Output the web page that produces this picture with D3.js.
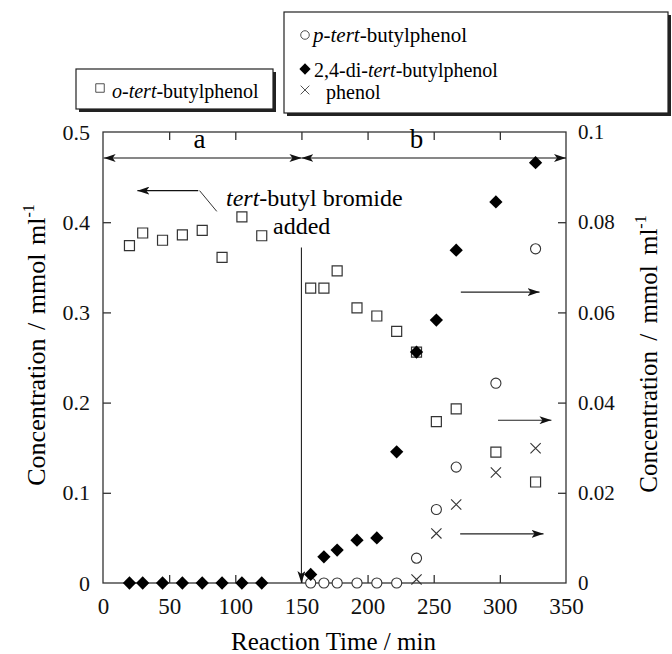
<!DOCTYPE html>
<html>
<head>
<meta charset="utf-8">
<script src="https://cdn.jsdelivr.net/npm/d3@7"></script>
<style>
  body { margin: 0; background: #fff; }
</style>
</head>
<body>
<script>
// o-tert-butylphenol, left axis (mmol/ml)
const orthoTime = [20, 30, 45, 60, 75, 90, 105, 120, 157, 167, 177, 192, 207, 222, 237, 252, 267, 297, 327];
const orthoConc = [0.374, 0.388, 0.380, 0.386, 0.391, 0.361, 0.406, 0.385, 0.327, 0.327, 0.346, 0.305, 0.296, 0.279, 0.256, 0.179, 0.193, 0.145, 0.112];

// right axis series
const paraTime = [157, 167, 177, 192, 207, 222, 237, 252, 267, 297, 327];
const paraConc = [0, 0, 0, 0, 0, 0, 0.0055, 0.0163, 0.0257, 0.0443, 0.0741];

const diTime = [20, 30, 45, 60, 75, 90, 105, 120, 157, 167, 177, 192, 207, 222, 237, 252, 267, 297, 327];
const diConc = [0, 0, 0, 0, 0, 0, 0, 0, 0.0019, 0.0058, 0.0073, 0.0095, 0.0100, 0.0291, 0.0512, 0.0583, 0.0738, 0.0845, 0.0932];

const phenolTime = [237, 252, 267, 297, 327];
const phenolConc = [0.0008, 0.011, 0.0174, 0.0245, 0.0299];

const xTicks = [0, 50, 100, 150, 200, 250, 300, 350];
const yLeftTicks = [0, 0.1, 0.2, 0.3, 0.4, 0.5];
const yRightTicks = [0, 0.02, 0.04, 0.06, 0.08, 0.1];

const W = 672, H = 654;
const margin = { top: 132, right: 106, bottom: 71, left: 103 };
const width = W - margin.left - margin.right;
const height = H - margin.top - margin.bottom;
const FONT = "'Liberation Serif', 'Times New Roman', serif";

const x = d3.scaleLinear().domain([0, 350]).range([0, width]);
const yL = d3.scaleLinear().domain([0, 0.5]).range([height, 0]);
const yR = d3.scaleLinear().domain([0, 0.1]).range([height, 0]);

const svg = d3.select("body").append("svg")
  .attr("width", W)
  .attr("height", H);

const defs = svg.append("defs");
defs.append("marker")
  .attr("id", "arr")
  .attr("viewBox", "0 0 12 8")
  .attr("refX", 12).attr("refY", 4)
  .attr("markerWidth", 12).attr("markerHeight", 8)
  .attr("markerUnits", "userSpaceOnUse")
  .attr("orient", "auto-start-reverse")
  .append("path")
  .attr("d", "M0,0 L12,4 L0,8 L3,4 Z")
  .attr("fill", "#111");

const g = svg.append("g")
  .attr("transform", "translate(" + margin.left + "," + margin.top + ")");

// frame
g.append("rect")
  .attr("width", width).attr("height", height)
  .attr("fill", "none").attr("stroke", "#333").attr("stroke-width", 1.3);

const tickLen = 8;
const axStyle = (sel, fs) => {
  sel.select(".domain").remove();
  sel.selectAll(".tick line").attr("stroke", "#333").attr("stroke-width", 1.3);
  sel.selectAll("text").attr("font-size", fs).attr("fill", "#111");
};

g.append("g")
  .attr("transform", "translate(0," + height + ")")
  .call(d3.axisBottom(x).tickValues(xTicks).tickSize(-tickLen).tickPadding(15).tickFormat(d3.format("d")))
  .call(axStyle, 23)
  .call(s => s.selectAll(".tick").filter(d => d === 0 || d === 350).select("line").remove());

g.append("g")
  .call(d3.axisTop(x).tickValues(xTicks).tickSize(-tickLen).tickFormat(""))
  .call(axStyle, 20)
  .call(s => s.selectAll(".tick").filter(d => d === 0 || d === 350).select("line").remove());

g.append("g")
  .call(d3.axisLeft(yL).tickValues(yLeftTicks).tickSize(-tickLen).tickPadding(13).tickFormat(d => d === 0 ? "0" : d3.format(".1f")(d)))
  .call(axStyle, 22)
  .call(s => s.selectAll(".tick").filter(d => d === 0 || d === 0.5).select("line").remove());

g.append("g")
  .attr("transform", "translate(" + width + ",0)")
  .call(d3.axisRight(yR).tickValues(yRightTicks).tickSize(-tickLen).tickPadding(12).tickFormat(d => d === 0 ? "0" : d === 0.1 ? "0.1" : d3.format(".2f")(d)))
  .call(axStyle, 21)
  .call(s => s.selectAll(".tick").filter(d => d === 0 || d === 0.1).select("line").remove());

// axis titles
svg.append("text")
  .attr("x", margin.left + width / 2 - 1)
  .attr("y", 650)
  .attr("text-anchor", "middle")
  .attr("font-size", 25)
  .text("Reaction Time / min");

const leftTitle = svg.append("text")
  .attr("transform", "translate(45,345) rotate(-90)")
  .attr("text-anchor", "middle")
  .attr("font-size", 26)
  .attr("word-spacing", 2);
leftTitle.append("tspan").text("Concentration / mmol ml");
leftTitle.append("tspan").attr("dy", -11).attr("font-size", 16).text("-1");

const rightTitle = svg.append("text")
  .attr("transform", "translate(657,354) rotate(-90)")
  .attr("text-anchor", "middle")
  .attr("font-size", 25)
  .attr("word-spacing", 4);
rightTitle.append("tspan").text("Concentration  / mmol ml");
rightTitle.append("tspan").attr("dy", -11).attr("font-size", 16).text("-1");

// period arrows a / b
const yTopArrow = 26;
const dbl = (x0, x1) => g.append("line")
  .attr("x1", x(x0)).attr("x2", x(x1))
  .attr("y1", yTopArrow).attr("y2", yTopArrow)
  .attr("stroke", "#111").attr("stroke-width", 1.2)
  .attr("marker-start", "url(#arr)").attr("marker-end", "url(#arr)");
dbl(0.5, 150);
dbl(150, 350);
g.append("text").attr("x", x(73)).attr("y", 16).attr("text-anchor", "middle")
  .attr("font-size", 27).text("a");
g.append("text").attr("x", x(237)).attr("y", 16).attr("text-anchor", "middle")
  .attr("font-size", 27).text("b");

// tert-butyl bromide annotation
g.append("line")
  .attr("x1", x(72)).attr("x2", x(26))
  .attr("y1", yL(0.435)).attr("y2", yL(0.435))
  .attr("stroke", "#111").attr("stroke-width", 1.2)
  .attr("marker-end", "url(#arr)");
g.append("line")
  .attr("x1", x(73)).attr("x2", x(86))
  .attr("y1", yL(0.435)).attr("y2", yL(0.412))
  .attr("stroke", "#333").attr("stroke-width", 1);
const tb = g.append("text").attr("x", x(93)).attr("y", yL(0.418)).attr("font-size", 24);
tb.append("tspan").attr("font-style", "italic").text("tert");
tb.append("tspan").text("-butyl bromide");
g.append("text").attr("x", x(128.5)).attr("y", yL(0.387)).attr("font-size", 24).text("added");

g.append("line")
  .attr("x1", x(150)).attr("x2", x(150))
  .attr("y1", yL(0.372)).attr("y2", yL(0))
  .attr("stroke", "#222").attr("stroke-width", 1.1)
  .attr("marker-end", "url(#arr)");

// right-pointing arrows to the right axis
const rightArrows = [[270.5, 330, 0.0645], [298.6, 339, 0.0361], [270, 333, 0.0109]];
g.selectAll(".rarr").data(rightArrows).enter().append("line")
  .attr("x1", d => x(d[0])).attr("x2", d => x(d[1]))
  .attr("y1", d => yR(d[2])).attr("y2", d => yR(d[2]))
  .attr("stroke", "#222").attr("stroke-width", 1.1)
  .attr("marker-end", "url(#arr)");

// markers
const sq = d3.symbol().type(d3.symbolSquare).size(100)();
const dia = d3.symbol().type(d3.symbolSquare).size(88)();
const circ = d3.symbol().type(d3.symbolCircle).size(80)();
const times = d3.symbol().type(d3.symbolTimes).size(70)();

const pts = (t, v) => t.map((d, i) => [d, v[i]]);

g.selectAll(".ortho").data(pts(orthoTime, orthoConc)).enter().append("path")
  .attr("d", sq)
  .attr("transform", d => "translate(" + x(d[0]) + "," + yL(d[1]) + ")")
  .attr("fill", "none").attr("stroke", "#333").attr("stroke-width", 1.2);

g.selectAll(".para").data(pts(paraTime, paraConc)).enter().append("path")
  .attr("d", circ)
  .attr("transform", d => "translate(" + x(d[0]) + "," + yR(d[1]) + ")")
  .attr("fill", "#fff").attr("stroke", "#333").attr("stroke-width", 1.1);

g.selectAll(".phenol").data(pts(phenolTime, phenolConc)).enter().append("path")
  .attr("d", times)
  .attr("transform", d => "translate(" + x(d[0]) + "," + yR(d[1]) + ")")
  .attr("fill", "none").attr("stroke", "#333").attr("stroke-width", 1.1);

g.selectAll(".di").data(pts(diTime, diConc)).enter().append("path")
  .attr("d", dia)
  .attr("transform", d => "translate(" + x(d[0]) + "," + yR(d[1]) + ") rotate(45)")
  .attr("fill", "#000");

// legends
const box = (x0, y0, w, h) => {
  svg.append("rect").attr("x", x0 + 3).attr("y", y0 + 3).attr("width", w).attr("height", h).attr("fill", "#222");
  svg.append("rect").attr("x", x0).attr("y", y0).attr("width", w).attr("height", h)
    .attr("fill", "#fff").attr("stroke", "#222").attr("stroke-width", 1.2);
};
box(76, 69, 197, 40);
box(284, 12, 384, 101);

const legendItems = [
  { sym: sq, fill: "none", rot: 0, x: 100, y: 88, ty: 98, tx: 112, fs: 20, parts: [["o-tert", true], ["-butylphenol", false]] },
  { sym: circ, fill: "none", rot: 0, x: 305, y: 35, ty: 42, tx: 313, fs: 21, parts: [["p-tert", true], ["-butylphenol", false]] },
  { sym: dia, fill: "#000", rot: 45, x: 305, y: 69, ty: 77, tx: 314, fs: 20, parts: [["2,4-di-", false], ["tert", true], ["-butylphenol", false]] },
  { sym: times, fill: "none", rot: 0, x: 305, y: 90, ty: 99, tx: 326, fs: 20, parts: [["phenol", false]] }
];
const lg = svg.selectAll(".lg").data(legendItems).enter().append("g");
lg.append("path")
  .attr("d", d => d.sym)
  .attr("transform", d => "translate(" + d.x + "," + d.y + ") rotate(" + d.rot + ") scale(0.85)")
  .attr("fill", d => d.fill)
  .attr("stroke", d => d.fill === "none" ? "#333" : "none")
  .attr("stroke-width", 1);
const lt = lg.append("text")
  .attr("x", d => d.tx).attr("y", d => d.ty)
  .attr("font-size", d => d.fs);
lt.selectAll("tspan").data(d => d.parts).enter().append("tspan")
  .attr("font-style", d => d[1] ? "italic" : "normal")
  .text(d => d[0]);

// one serif face everywhere
svg.selectAll("g").attr("font-family", null);
svg.selectAll("text").style("font-family", FONT);
</script>
</body>
</html>
